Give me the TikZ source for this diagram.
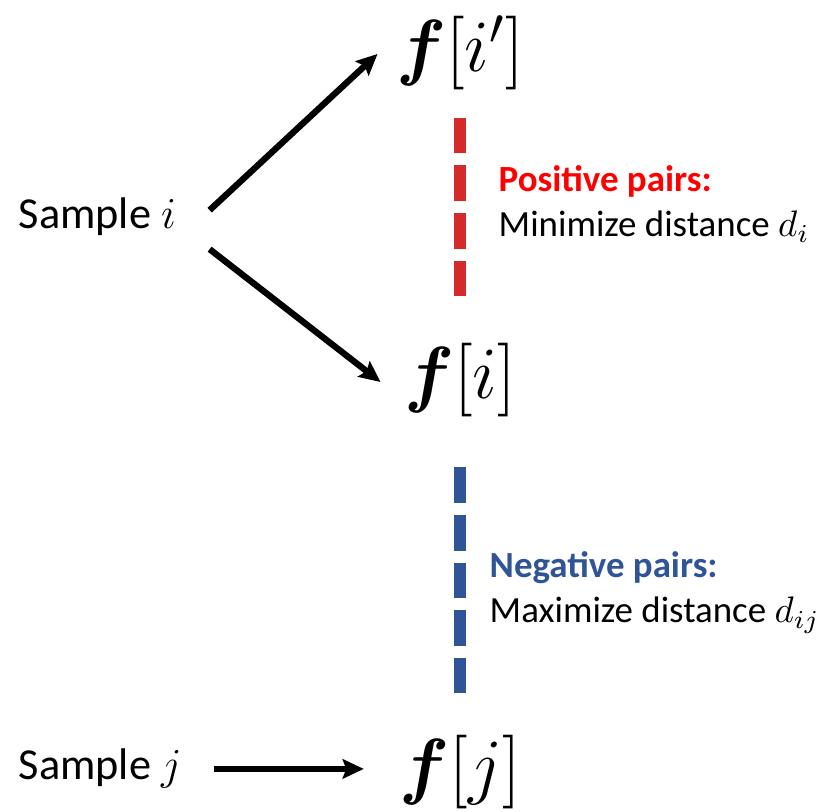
\RequirePackage{fix-cm}
\documentclass[tikz,border=0pt]{standalone}
\usepackage{fontspec}
\setmainfont{Carlito}
\usepackage{bm}
\usepackage{tikz}
\usetikzlibrary{positioning, arrows.meta, calc}
\definecolor{posred}{RGB}{212,42,42}
\definecolor{negblue}{RGB}{47,85,151}

\begin{document}
\begin{tikzpicture}
    \tikzset{
        sample label/.style={font=\fontsize{12.6}{15}\selectfont, inner sep=0pt, anchor=base west},
        feature/.style={font=\fontsize{21}{24}\selectfont, inner sep=0pt},
        pair title/.style={font=\fontsize{10.5}{13}\selectfont\bfseries, anchor=base west, inner sep=0pt},
        pair text/.style={font=\fontsize{10.5}{13}\selectfont, anchor=base west, inner sep=0pt},
        map arrow/.style={-{Stealth[length=6pt, width=5.5pt, inset=1pt]}, line width=1.8pt},
        pair line/.style={line width=3.4pt, dash pattern=on 10.2pt off 3.4pt}
    }
    \useasboundingbox (0,0) rectangle (8.26,8.12);

    % samples and features
    \node[sample label] (samplei) at (0.18, 5.83) {Sample $i$};
    \node[sample label] (samplej) at (0.18, 0.32) {Sample $j$};
    \node[feature] (fiprime) at (4.60, 7.59) {$\bm{f}[i']$};
    \node[feature] (fi) at (4.60, 4.32) {$\bm{f}[i]$};
    \node[feature] (fj) at (4.60, 0.40) {$\bm{f}[j]$};

    % mapping arrows
    \draw[map arrow] ($(samplei.east)+(0.33,0.07)$) -- ($(fiprime.west)+(-0.18,-0.01)$);
    \draw[map arrow] ($(samplei.east)+(0.33,-0.32)$) -- ($(fi.west)+(-0.23,-0.02)$);
    \draw[map arrow] ([xshift=0.32cm]samplej.east) -- ([xshift=-0.35cm]samplej.east -| fj.west);

    % pairs
    \draw[pair line, posred] ([yshift=-0.27cm]fiprime.south) -- ([yshift=0.465cm]fi.north);
    \draw[pair line, negblue] ([yshift=-0.495cm]fi.south) -- ([yshift=0.415cm]fj.north);

    \node[pair title, text=red] (postitle) at (4.98, 6.20) {Positive pairs:};
    \node[pair text] (postext) at (4.98, 5.75) {Minimize distance $d_i$};
    \node[pair title, text=negblue] (negtitle) at (4.89, 2.34) {Negative pairs:};
    \node[pair text] (negtext) at (4.89, 1.89) {Maximize distance $d_{ij}$};
\end{tikzpicture}
\end{document}
